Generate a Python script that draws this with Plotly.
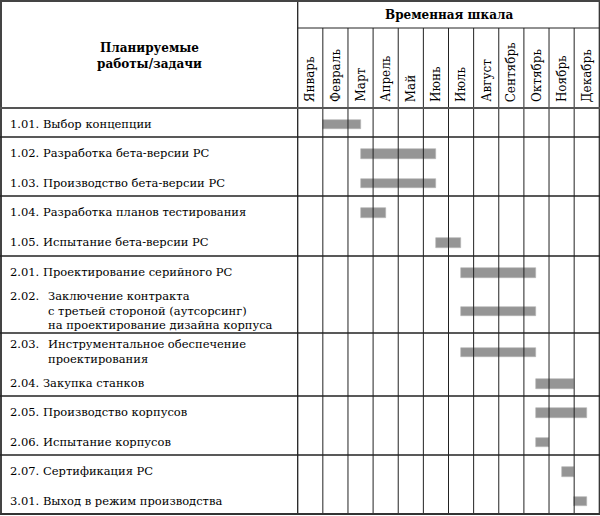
import plotly.graph_objects as go

# ---------------- data ----------------
months = ["Январь", "Февраль", "Март", "Апрель", "Май", "Июнь", "Июль",
          "Август", "Сентябрь", "Октябрь", "Ноябрь", "Декабрь"]
codes = ["1.01", "1.02", "1.03", "1.04", "1.05", "2.01", "2.02", "2.03",
         "2.04", "2.05", "2.06", "2.07", "3.01"]
names = [
    "Выбор концепции",
    "Разработка бета-версии РС",
    "Производство бета-версии РС",
    "Разработка планов тестирования",
    "Испытание бета-версии РС",
    "Проектирование серийного РС",
    "Заключение контракта\nс третьей стороной (аутсорсинг)\nна проектирование дизайна корпуса",
    "Инструментальное обеспечение\nпроектирования",
    "Закупка станков",
    "Производство корпусов",
    "Испытание корпусов",
    "Сертификация РС",
    "Выход в режим производства",
]
# start / end in months from 1 January
start = [1.0, 2.5, 2.5, 2.5, 5.5, 6.5, 6.5, 6.5, 9.5, 9.5, 9.5, 10.5, 11.0]
end   = [2.5, 5.5, 5.5, 3.5, 6.5, 9.5, 9.5, 9.5, 11.0, 11.5, 10.0, 11.0, 11.5]
groups = [1, 2, 2, 2, 2, 2, 2]   # number of tasks per ruled group
left_title = "Планируемые<br>работы/задачи"
right_title = "Временная шкала"

# ---------------- layout (pixels) ----------------
W, H = 600, 516
header_h = 108
subheader_h = 28
row_h = [29, 30, 29, 30, 30, 30, 47, 35, 28, 30, 29, 30, 29]
x_left_px, x_right_px = 297.7, 599.3
px_per_month = (x_right_px - x_left_px) / 12
x0 = -x_left_px / px_per_month
x1 = x0 + W / px_per_month

tops = []
y = header_h
for h in row_h:
    tops.append(y)
    y += h
bottom = y
centers = [t + h / 2 for t, h in zip(tops, row_h)]

FONT = "DejaVu Serif"
TXT = "#000"

fig = go.Figure()
fig.add_trace(go.Bar(
    y=[c + 2 for c in centers],
    x=[e - s for s, e in zip(start, end)],
    base=start,
    orientation="h",
    width=9.5,
    marker=dict(color="#959595", line=dict(color="#b5b5b5", width=0.6)),
    hoverinfo="skip",
    showlegend=False,
))

shapes = []
def hline(yv, xa, xb, color="#111", w=1.0, xref="paper"):
    shapes.append(dict(type="line", xref=xref, yref="y", x0=xa, x1=xb, y0=yv, y1=yv,
                       line=dict(color=color, width=w), layer="above"))
def vline(xv, ya, yb, color="#111", w=1.0, xref="x"):
    shapes.append(dict(type="line", xref=xref, yref="y", x0=xv, x1=xv, y0=ya, y1=yb,
                       line=dict(color=color, width=w), layer="above"))

# month column lines
for k in range(1, 12):
    vline(k, subheader_h, bottom, color="#222", w=1)
vline(12, 0, bottom, color="#222", w=1.2)
vline(0, 0, bottom, color="#222", w=1.3)
# outer left border
vline(1 / W, 0, bottom, color="#444", w=2, xref="paper")
# top border
hline(1, 0, 1, color="#444", w=2)
hline(subheader_h, 0, 12, color="#222", w=1, xref="x")
hline(header_h, 0, 1, color="#555", w=2)
# group separators
idx = 0
for g in groups:
    idx += g
    if idx < len(row_h):
        hline(tops[idx], 0, 1, color="#222", w=1.4)
hline(bottom, 0, 1, color="#333", w=2)

ann = []
# header texts
ann.append(dict(x=149 / W, xref="paper", y=header_h / 2 + 2, yref="y", text="<b>" + left_title + "</b>",
                showarrow=False, font=dict(family=FONT, size=12, color=TXT),
                xanchor="center", yanchor="middle", align="center"))
ann.append(dict(x=6, xref="x", y=subheader_h / 2 + 1, yref="y", text="<b>" + right_title + "</b>",
                showarrow=False, font=dict(family=FONT, size=12, color=TXT),
                xanchor="center", yanchor="middle"))
for i, m in enumerate(months):
    ann.append(dict(x=i + 0.5, xref="x", y=header_h - 4, yref="y", text=m, textangle=-90,
                    showarrow=False, font=dict(family=FONT, size=12, color=TXT),
                    xanchor="center", yanchor="bottom"))

# task labels
line_gap = 14.5
for c, code, name in zip(centers, codes, names):
    lines = name.split("\n")
    n = len(lines)
    first_y = c + 1 - line_gap * (n - 1) / 2
    if n == 1:
        ann.append(dict(x=8 / W, xref="paper", y=first_y, yref="y", text=f"{code}. {name}",
                        showarrow=False, font=dict(family=FONT, size=11.5, color=TXT),
                        xanchor="left", yanchor="middle"))
    else:
        ann.append(dict(x=8 / W, xref="paper", y=first_y, yref="y", text=f"{code}.",
                        showarrow=False, font=dict(family=FONT, size=11.5, color=TXT),
                        xanchor="left", yanchor="middle"))
        for j, ln in enumerate(lines):
            ann.append(dict(x=46 / W, xref="paper", y=first_y + j * line_gap, yref="y", text=ln,
                            showarrow=False, font=dict(family=FONT, size=11.5, color=TXT),
                            xanchor="left", yanchor="middle"))

fig.update_layout(
    width=W, height=H,
    margin=dict(l=0, r=0, t=0, b=0),
    paper_bgcolor="white", plot_bgcolor="white",
    xaxis=dict(range=[x0, x1], visible=False, fixedrange=True),
    yaxis=dict(range=[H, 0], visible=False, fixedrange=True),
    shapes=shapes, annotations=ann,
    bargap=0,
)
fig.write_html("out.html")
